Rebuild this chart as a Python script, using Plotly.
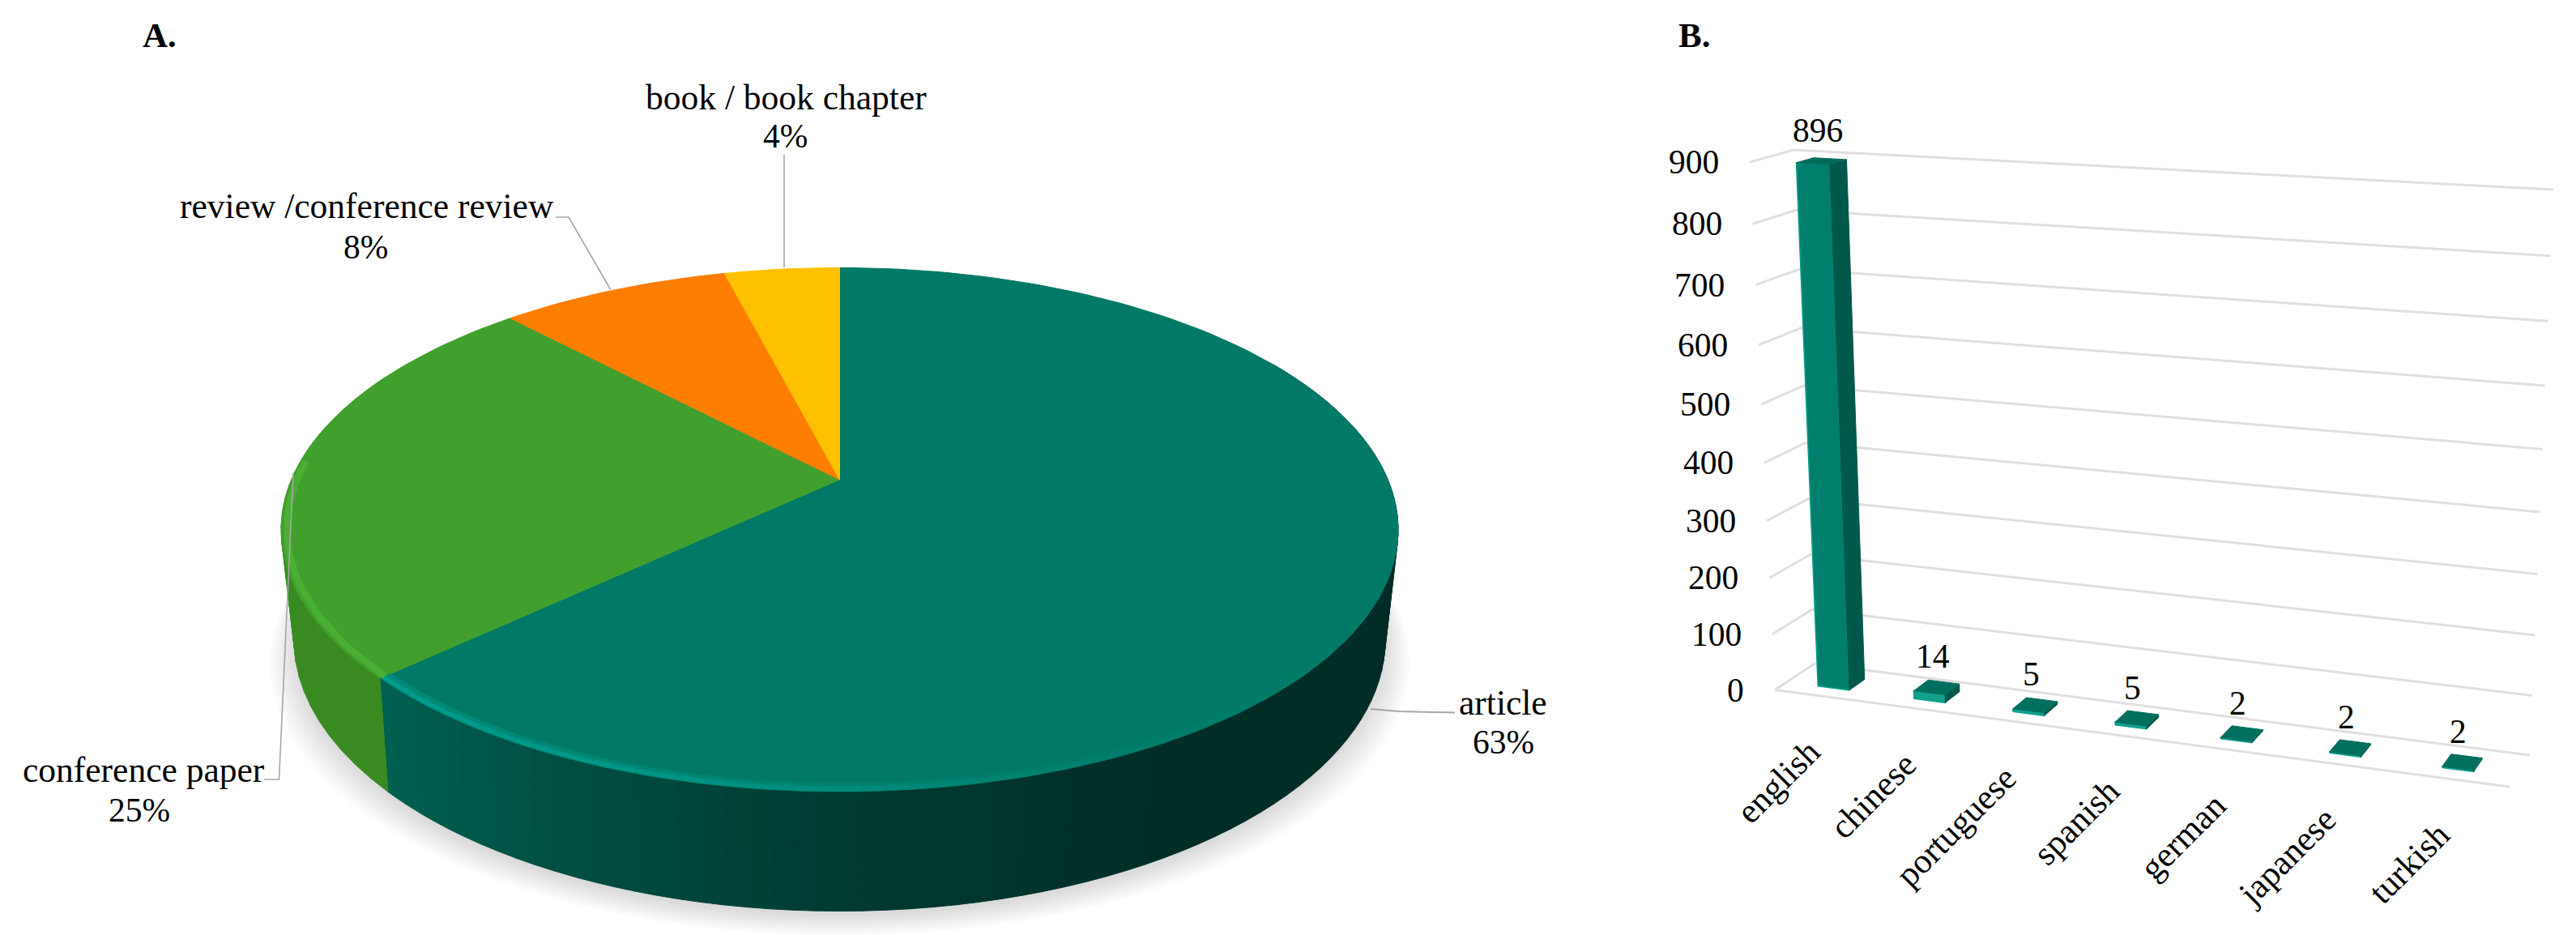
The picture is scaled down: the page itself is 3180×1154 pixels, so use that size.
import math
import plotly.graph_objects as go

# ---------- data ----------
pub_types = ["article", "conference paper", "review /conference review", "book / book chapter"]
pub_shares = [63, 25, 8, 4]
languages = ["english", "chinese", "portuguese", "spanish", "german", "japanese", "turkish"]
lang_counts = [896, 14, 5, 5, 2, 2, 2]
y_ticks = [0, 100, 200, 300, 400, 500, 600, 700, 800, 900]

FONT = "Liberation Serif"
FS = 41.5
FS_LABEL = 43.5
fig = go.Figure()
ann = []


def poly(pts, fill, line=None, width=1):
    fig.add_trace(go.Scatter(
        x=[p[0] for p in pts] + [pts[0][0]], y=[p[1] for p in pts] + [pts[0][1]],
        mode="lines", fill="toself", fillcolor=fill,
        line=dict(color=line or fill, width=width), hoverinfo="skip", showlegend=False))


def path(pts, color, width):
    fig.add_trace(go.Scatter(
        x=[p[0] for p in pts], y=[p[1] for p in pts], mode="lines",
        line=dict(color=color, width=width), hoverinfo="skip", showlegend=False))


def text(x, y, s, size=FS, bold=False, **kw):
    ann.append(dict(x=x, y=y, text=f"<b>{s}</b>" if bold else s, showarrow=False,
                    xref="x", yref="y", font=dict(family=FONT, size=size, color="#000000"), **kw))


# ---------- panel A: pie in perspective ----------
CX = 1036.5


def disc(phi, cy, a, b, p, r=1.0):
    u, v = math.sin(math.radians(phi)) * r, math.cos(math.radians(phi)) * r
    w = 1 + p * v
    return CX + a * u / w, cy - b * v / w


def top(phi, r=1.0):
    return disc(phi, 592, 676.8, 311.5, 0.191, r)


def bottom(phi, r=1.0):
    return disc(phi, 722, 660, 322, 0.2, r)


def mix(stops, x):
    for (x0, c0), (x1, c1) in zip(stops, stops[1:]):
        if x0 <= x <= x1:
            f = (x - x0) / (x1 - x0)
            return "rgb(%d,%d,%d)" % tuple(round(a + (b - a) * f) for a, b in zip(c0, c1))
    return "rgb(%d,%d,%d)" % stops[-1][1]


# soft shadow under the disc
for k in range(9):
    grow = 1.0 + 0.0055 * k
    pts = [(lambda q: (CX + (q[0] - CX) * grow, q[1] + 6 + 3 * k))(bottom(a)) for a in range(0, 360, 3)]
    poly(pts, "rgba(0,0,0,0.015)", line="rgba(0,0,0,0)", width=0)

edges = [0]
for sh in pub_shares:
    edges.append(edges[-1] + sh / sum(pub_shares) * 360)

# side wall
article_stops = [(60, (0, 44, 37)), (150, (0, 46, 38)), (178, (0, 58, 49)), (200, (0, 76, 64)), (edges[1], (0, 98, 82))]
phi = 60.0
while phi < edges[1]:
    nxt = min(phi + 2, edges[1])
    poly([top(phi), top(nxt), bottom(nxt), bottom(phi)], mix(article_stops, phi))
    phi = nxt
phi = edges[1]
while phi < 296:
    nxt = min(phi + 3, 296)
    poly([top(phi), top(nxt), bottom(nxt), bottom(phi)], "rgb(58,138,34)")
    phi = nxt

# top faces
face_colors = ["#007a66", "#41a02d", "#fd7e00", "#ffc000"]
for i, col in enumerate(face_colors):
    n = max(4, int((edges[i + 1] - edges[i]) / 1.5))
    arc = [top(edges[i] + (edges[i + 1] - edges[i]) * j / n) for j in range(n + 1)]
    poly([(CX, 592)] + arc, col)

# bevel highlight along the front rim
rim_outer = [(120, (0, 122, 102)), (160, (0, 128, 110)), (195, (0, 150, 134)), (edges[1], (0, 156, 140))]
rim_inner = [(120, (0, 122, 102)), (160, (0, 124, 105)), (195, (0, 134, 116)), (edges[1], (0, 138, 120))]
phi = 120.0
while phi < edges[1]:
    nxt = min(phi + 2, edges[1])
    path([top(phi, 0.984), top(nxt, 0.984)], mix(rim_inner, phi), 6)
    path([top(phi, 0.993), top(nxt, 0.993)], mix(rim_outer, phi), 6)
    phi = nxt
path([top(edges[1] + j * 2.5, 0.99) for j in range(20)], "#4ab033", 8)

# leader lines
LEAD = "#a6a6a6"
path([(968, 191), (968, 330)], LEAD, 1.6)
path([(686, 268), (702, 268), (753.5, 357)], LEAD, 1.6)
path([(326, 962), (344.5, 962), (362, 583.5)], LEAD, 1.6)
path([(1692, 875), (1727, 878), (1796, 879.5)], LEAD, 2)

# pie labels
text(197, 43, "A.", size=43, bold=True)
label_pos = {0: ((1855, 867), (1856, 916)), 1: ((177, 950), (172, 1000)),
             2: ((453, 254), (451, 305)), 3: ((970, 120), (969, 168))}
for i, name in enumerate(pub_types):
    (x0, y0), (x1, y1) = label_pos[i]
    text(x0, y0, name, size=FS_LABEL)
    text(x1, y1, f"{pub_shares[i]}%")

# ---------- panel B: bar chart in perspective ----------
FLB, BLB, BRB, FRB = (2191, 851.5), (2240, 819), (3123, 932), (3098, 971)
FLT, BLT, BRT, FRT = (2160, 200), (2214.5, 185), (3152, 234), (3127, 254)


def height(val):
    t = val / max(y_ticks)
    return (851.5 - (851.5 - 662.9 * t) / (1 - 0.0572 * t)) / 651.5


def warp(s):
    return s / (1 + 0.1186 * (1 - s))


def lerp(a, b, f):
    return a[0] + (b[0] - a[0]) * f, a[1] + (b[1] - a[1]) * f


def P(s, d, h):
    low = lerp(lerp(FLB, FRB, s), lerp(BLB, BRB, s), d)
    high = lerp(lerp(FLT, FRT, s), lerp(BLT, BRT, s), d)
    return lerp(low, high, h)


GRID = "#e0dede"
for v in y_ticks:
    h = height(v)
    path([P(0, 0, h), P(0, 1, h), P(1, 1, h)], GRID, 3)
    tip = P(0, 0, h)
    text(tip[0] - 36, tip[1], str(v), xanchor="right")
path([FLB, FRB], GRID, 3)

HALF, D0, D1 = 0.0215, 0.30, 0.70
for i, (name, val) in enumerate(zip(languages, lang_counts)):
    sc = warp((i + 0.5) / len(languages))
    s0, s1, h = sc - HALF, sc + HALF, height(val)
    tall = val > 100
    poly([P(s0, D0, 0), P(s1, D0, 0), P(s1, D0, h), P(s0, D0, h)],
         "#007f6c" if tall else "#12a08e", line="#12a08e" if not tall else "#00a08c", width=1.5)
    poly([P(s1, D0, 0), P(s1, D1, 0), P(s1, D1, h), P(s1, D0, h)], "#00594a")
    poly([P(s0, D0, h), P(s1, D0, h), P(s1, D1, h), P(s0, D1, h)], "#006a59" if tall else "#006f5e")
    mid = P(sc, 0.5, h)
    text(mid[0] - 5, mid[1] - 38, str(val))
    foot = P(sc, 0, 0)
    text(foot[0] + 9, foot[1] + 42, name, size=43, textangle=-45, xanchor="right", yanchor="top")

text(2091, 43, "B.", size=43, bold=True)

fig.update_layout(
    width=3180, height=1154, autosize=False,
    margin=dict(l=0, r=0, t=0, b=0), paper_bgcolor="#ffffff", plot_bgcolor="#ffffff",
    showlegend=False, annotations=ann,
    xaxis=dict(range=[0, 3180], visible=False, fixedrange=True),
    yaxis=dict(range=[1154, 0], visible=False, fixedrange=True),
)
fig.write_html("out.html", config=dict(displayModeBar=False),
               post_script="document.body.style.margin='0';document.body.style.overflow='hidden';")
